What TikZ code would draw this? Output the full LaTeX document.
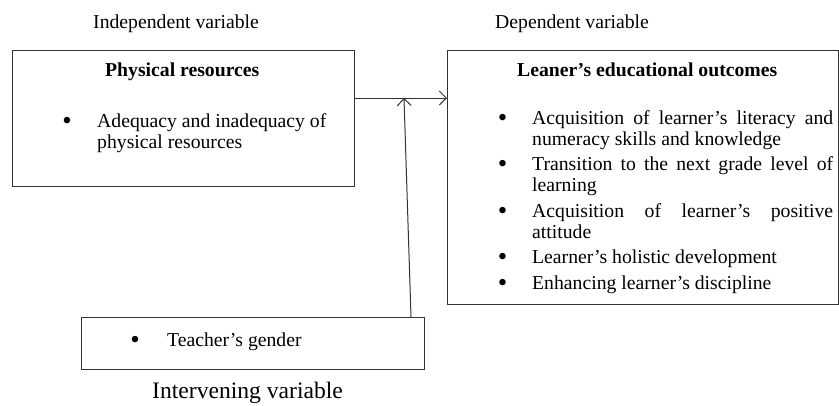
\documentclass[tikz,border=0pt]{standalone}
\usepackage{fontspec}
\setmainfont{Liberation Serif}
\usepackage{enumitem}
\usetikzlibrary{
	arrows.meta,
	calc,
	positioning,
	}

\newcommand{\varfont}{\fontsize{19.7}{21}\selectfont}
\newcommand{\bigdot}{\raisebox{-2pt}{\fontsize{27}{27}\selectfont\textbullet}}

\tikzset{
	varbox/.style={draw=black!80, line width=1.2pt, inner sep=0pt, anchor=north west},
	heading/.style={anchor=base west, inner sep=0pt, font=\varfont\bfseries},
	plain/.style={anchor=base west, inner sep=0pt, font=\varfont},
	dot/.style={anchor=base, inner sep=0pt, font=\varfont},
	link/.style={-{Straight Barb[length=7pt,width=14pt]}, line width=1pt, draw=black!80},
}

\begin{document}
\begin{tikzpicture}[x=1pt, y=-1pt]
		\useasboundingbox (0,0) rectangle (839,405);
		% the three variables
		\node[varbox, minimum width=342pt, minimum height=136pt] (physical) at (12,50) {};
		\node[varbox, minimum width=391pt, minimum height=254pt] (outcomes) at (447,50) {};
		\node[varbox, minimum width=343pt, minimum height=52pt] (gender) at (81,317) {};
		% captions
		\node[plain] (indep) at (93,28) {Independent variable};
		\node[plain] (dep) at (495,28) {Dependent variable};
		\node[plain, font=\fontsize{23.6}{25}\selectfont] (interv) at (152,398.5) {Intervening variable};
		% independent box
		\node[heading] (physicaltitle) at (105,76) {Physical resources};
		\node[dot] (b0) at (67,127) {\bigdot};
		\node[plain, align=left] (adequacy) at (97,148) {Adequacy and inadequacy of\\physical resources};
		% dependent box
		\node[heading] (outcomestitle) at (517,76) {Leaner’s educational outcomes};
		\node[anchor=north west, inner sep=0pt, text width=333pt, align=justify, font=\varfont] (items) at (500,103) {%
			\hyphenpenalty=10000\exhyphenpenalty=10000
			\begin{itemize}[leftmargin=32pt, labelsep=25pt, topsep=0pt, partopsep=0pt, parsep=0pt, itemsep=4.5pt, label=\bigdot]
				\item Acquisition of learner’s literacy and numeracy skills and knowledge
				\item Transition to the next grade level of learning
				\item Acquisition of learner’s positive attitude
				\item Learner’s holistic development
				\item Enhancing learner’s discipline
			\end{itemize}};
		% intervening box
		\node[dot] (b1) at (135,346) {\bigdot};
		\node[plain] (teacher) at (167,346) {Teacher’s gender};
		% arrows
		\coordinate (join) at (404,98);
		\coordinate (foot) at (411,317);
		\draw[link] (physical.east |- join) -- (outcomes.west |- join);
		\draw[link] (foot) -- (join);
	\end{tikzpicture}
\end{document}
